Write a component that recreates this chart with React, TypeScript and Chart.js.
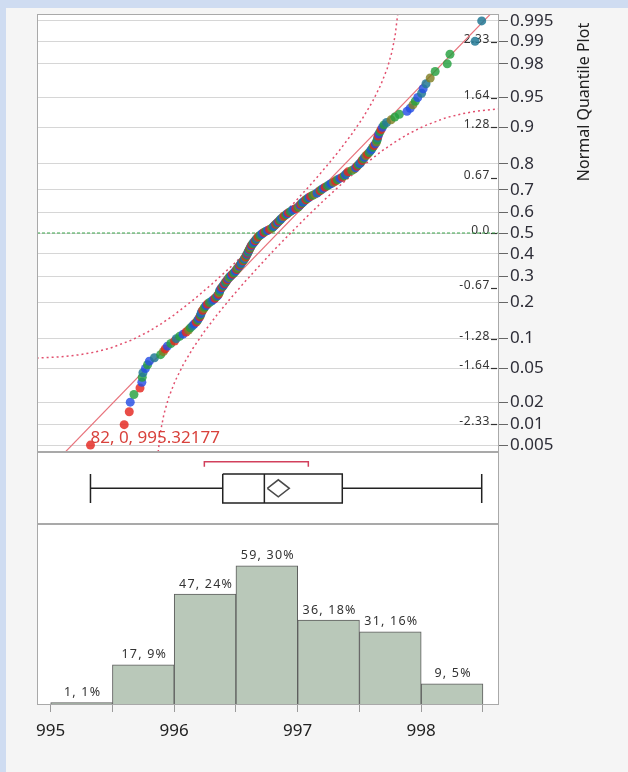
import React, { useEffect, useRef } from 'react';
import { Chart, registerables } from 'chart.js';

Chart.register(...registerables);

// ---------------- data ----------------
const X_MIN = 994.889;
const X_MAX = 998.63;
const Z_MIN = -2.661;
const Z_MAX = 2.661;

const VALUES = [
  995.322, 995.595, 995.636, 995.644, 995.674, 995.723, 995.738, 995.741, 995.747, 995.767,
  995.784, 995.799, 995.840, 995.890, 995.912, 995.927, 995.945, 995.973, 996.003, 996.017,
  996.044, 996.072, 996.097, 996.116, 996.131, 996.148, 996.162, 996.179, 996.190, 996.198,
  996.208, 996.213, 996.218, 996.223, 996.231, 996.240, 996.247, 996.259, 996.270, 996.286,
  996.303, 996.319, 996.330, 996.342, 996.353, 996.360, 996.364, 996.367, 996.371, 996.378,
  996.385, 996.394, 996.401, 996.408, 996.415, 996.422, 996.428, 996.436, 996.443, 996.453,
  996.462, 996.472, 996.482, 996.491, 996.498, 996.505, 996.512, 996.519, 996.526, 996.532,
  996.539, 996.545, 996.551, 996.558, 996.565, 996.571, 996.577, 996.581, 996.585, 996.590,
  996.594, 996.598, 996.602, 996.606, 996.610, 996.614, 996.619, 996.623, 996.628, 996.636,
  996.642, 996.649, 996.656, 996.662, 996.668, 996.675, 996.682, 996.693, 996.704, 996.715,
  996.726, 996.740, 996.756, 996.772, 996.788, 996.798, 996.806, 996.814, 996.822, 996.831,
  996.839, 996.848, 996.857, 996.865, 996.874, 996.882, 996.892, 996.904, 996.916, 996.926,
  996.940, 996.953, 996.968, 996.985, 997.003, 997.010, 997.018, 997.026, 997.035, 997.044,
  997.055, 997.066, 997.078, 997.091, 997.104, 997.122, 997.140, 997.157, 997.168, 997.181,
  997.194, 997.207, 997.222, 997.240, 997.256, 997.273, 997.290, 997.306, 997.322, 997.341,
  997.361, 997.376, 997.387, 997.398, 997.408, 997.438, 997.457, 997.469, 997.480, 997.491,
  997.503, 997.513, 997.522, 997.531, 997.541, 997.552, 997.565, 997.578, 997.589, 997.599,
  997.608, 997.618, 997.628, 997.638, 997.643, 997.647, 997.651, 997.657, 997.666, 997.675,
  997.686, 997.698, 997.720, 997.756, 997.786, 997.823, 997.885, 997.911, 997.933, 997.952,
  997.972, 998.003, 998.016, 998.039, 998.073, 998.113, 998.211, 998.233, 998.436, 998.490,
];

// normal scores of the ranks (quantile axis positions)
const NORMAL_SCORES = [
  -2.577, -2.329, -2.172, -2.055, -1.962, -1.883, -1.814, -1.753, -1.698, -1.647,
  -1.601, -1.557, -1.516, -1.478, -1.442, -1.408, -1.375, -1.343, -1.313, -1.284,
  -1.256, -1.229, -1.203, -1.178, -1.153, -1.129, -1.106, -1.083, -1.061, -1.040,
  -1.018, -0.998, -0.977, -0.957, -0.938, -0.919, -0.900, -0.881, -0.863, -0.845,
  -0.827, -0.810, -0.793, -0.776, -0.759, -0.743, -0.726, -0.710, -0.694, -0.678,
  -0.663, -0.647, -0.632, -0.617, -0.601, -0.587, -0.572, -0.557, -0.543, -0.528,
  -0.514, -0.500, -0.486, -0.472, -0.458, -0.445, -0.431, -0.417, -0.404, -0.391,
  -0.377, -0.364, -0.351, -0.338, -0.325, -0.312, -0.298, -0.285, -0.272, -0.259,
  -0.247, -0.234, -0.221, -0.208, -0.196, -0.183, -0.170, -0.158, -0.145, -0.131,
  -0.119, -0.106, -0.094, -0.081, -0.069, -0.056, -0.044, -0.031, -0.019, -0.006,
  0.006, 0.019, 0.031, 0.044, 0.056, 0.069, 0.081, 0.094, 0.106, 0.119,
  0.131, 0.145, 0.158, 0.170, 0.183, 0.196, 0.208, 0.221, 0.234, 0.247,
  0.259, 0.272, 0.285, 0.298, 0.312, 0.325, 0.338, 0.351, 0.364, 0.377,
  0.391, 0.404, 0.417, 0.431, 0.445, 0.458, 0.472, 0.486, 0.500, 0.514,
  0.528, 0.543, 0.557, 0.572, 0.587, 0.601, 0.617, 0.632, 0.647, 0.663,
  0.678, 0.694, 0.710, 0.726, 0.743, 0.759, 0.776, 0.793, 0.810, 0.827,
  0.845, 0.863, 0.881, 0.900, 0.919, 0.938, 0.957, 0.977, 0.998, 1.018,
  1.040, 1.061, 1.083, 1.106, 1.129, 1.153, 1.178, 1.203, 1.229, 1.256,
  1.284, 1.313, 1.343, 1.375, 1.408, 1.442, 1.478, 1.516, 1.557, 1.601,
  1.647, 1.698, 1.753, 1.814, 1.883, 1.962, 2.055, 2.172, 2.329, 2.577,
];

const POINT_COLOR_CODES = [
  'rrrbgrbgtb', 'gbtgorbgrt', 'gbrogtbrgb', 'rgbtrogbrg', 'tbrgbrogtb',
  'rgbrtgrbog', 'brgtbrgobr', 'gbtrgborgb', 'rtgbrgobrg', 'tbrgborgtb',
  'rgbrogbtrg', 'brgtborgbr', 'gtbrgobrgb', 'trgbrgobtr', 'gbrgtborgb',
  'rgbtrgobrg', 'btrgborgtb', 'grbogtrbgr', 'bgtoggbbog', 'btbtogggtt',
].join('');

const FIT_LINE_X = [994.889, 998.63];
const FIT_LINE_Z = [-3.015, 2.767];

const UPPER_BAND_X = [994.886, 995.024, 995.113, 995.231, 995.347, 995.480, 995.657, 995.789, 995.898, 995.995,
  996.166, 996.321, 996.466, 996.604, 996.737, 996.867, 996.991, 997.112, 997.227, 997.336,
  997.437, 997.528, 997.607, 997.673, 997.725, 997.763, 997.789, 997.810];
const UPPER_BAND_Z = [-1.52, -1.51, -1.50, -1.48, -1.45, -1.40, -1.30, -1.20, -1.10, -1.00,
  -0.80, -0.60, -0.40, -0.20, 0.00, 0.20, 0.40, 0.60, 0.80, 1.00,
  1.20, 1.40, 1.60, 1.80, 2.00, 2.20, 2.40, 2.661];

const LOWER_BAND_X = [995.870, 995.891, 995.917, 995.955, 996.007, 996.073, 996.152, 996.243, 996.344, 996.453,
  996.568, 996.689, 996.813, 996.943, 997.076, 997.214, 997.359, 997.514, 997.685, 997.782,
  997.891, 998.023, 998.200, 998.333, 998.449, 998.567, 998.656, 998.794];
const LOWER_BAND_Z = [-2.661, -2.40, -2.20, -2.00, -1.80, -1.60, -1.40, -1.20, -1.00, -0.80,
  -0.60, -0.40, -0.20, 0.00, 0.20, 0.40, 0.60, 0.80, 1.00, 1.10,
  1.20, 1.30, 1.40, 1.45, 1.48, 1.50, 1.51, 1.52];

const PROB_LABELS = ['0.005', '0.01', '0.02', '0.05', '0.1', '0.2', '0.3', '0.4', '0.5',
  '0.6', '0.7', '0.8', '0.9', '0.95', '0.98', '0.99', '0.995'];
const PROB_Z = [-2.576, -2.326, -2.054, -1.645, -1.282, -0.842, -0.524, -0.253, 0,
  0.253, 0.524, 0.842, 1.282, 1.645, 2.054, 2.326, 2.576];

const Z_TICK_LABELS = ['2.33', '1.64', '1.28', '0.67', '0.0', '-0.67', '-1.28', '-1.64', '-2.33'];
const Z_TICK_VALUES = [2.326, 1.645, 1.282, 0.674, 0, -0.674, -1.282, -1.645, -2.326];

const OUTLIER_LABEL = '82, 0, 995.32177';
const AXIS_TITLE = 'Normal Quantile Plot';

const BOX_MIN = 995.322;
const BOX_Q1 = 996.393;
const BOX_MEDIAN = 996.73;
const BOX_Q3 = 997.361;
const BOX_MAX = 998.49;
const MEAN = 996.843;
const MEAN_CI_LOW = 996.754;
const MEAN_CI_HIGH = 996.932;
const SHORTEST_HALF_LOW = 996.244;
const SHORTEST_HALF_HIGH = 997.086;

const HIST_BIN_LEFT = [995, 995.5, 996, 996.5, 997, 997.5, 998];
const HIST_BIN_WIDTH = 0.5;
const HIST_COUNTS = [1, 17, 47, 59, 36, 31, 9];
const HIST_LABELS = ['1, 1%', '17, 9%', '47, 24%', '59, 30%', '36, 18%', '31, 16%', '9, 5%'];
const X_TICKS = [995, 995.5, 996, 996.5, 997, 997.5, 998, 998.5];
const X_TICK_LABELS = ['995', '', '996', '', '997', '', '998', ''];

// ---------------- styles ----------------
const FONT = '"Noto Sans", "Open Sans", sans-serif';
const COLOR_MAP: Record<string, string> = {
  r: 'rgba(228, 38, 30, 0.82)',
  g: 'rgba(36, 160, 62, 0.82)',
  b: 'rgba(38, 78, 228, 0.82)',
  t: 'rgba(36, 122, 150, 0.86)',
  o: 'rgba(128, 128, 36, 0.82)',
};

const framePlugin = {
  id: 'panelFrame',
  beforeDraw(chart: any) {
    const { ctx, chartArea: a } = chart;
    ctx.save();
    ctx.fillStyle = '#ffffff';
    ctx.fillRect(a.left, a.top, a.right - a.left, a.bottom - a.top);
    ctx.restore();
  },
  afterDraw(chart: any) {
    const { ctx, chartArea: a } = chart;
    ctx.save();
    ctx.strokeStyle = '#a9a9a9';
    ctx.lineWidth = 1;
    ctx.strokeRect(a.left + 0.5, a.top + 0.5, a.right - a.left - 1, a.bottom - a.top - 1);
    ctx.restore();
  },
};

const quantileTextPlugin = {
  id: 'quantileText',
  beforeDatasetsDraw(chart: any) {
    const { ctx, chartArea: a } = chart;
    const ys = chart.scales.y;
    ctx.save();
    ctx.font = `12px ${FONT}`;
    ctx.fillStyle = '#333333';
    ctx.textAlign = 'right';
    ctx.textBaseline = 'alphabetic';
    try { (ctx as any).letterSpacing = '0.6px'; } catch (e) { /* ignore */ }
    Z_TICK_VALUES.forEach((z, i) => {
      const y = ys.getPixelForValue(z);
      ctx.fillText(Z_TICK_LABELS[i], a.right - 9, y + 1);
      ctx.strokeStyle = '#333333';
      ctx.lineWidth = 1.2;
      ctx.beginPath();
      ctx.moveTo(a.right - 8, Math.round(y) + 0.5);
      ctx.lineTo(a.right - 2, Math.round(y) + 0.5);
      ctx.stroke();
    });
    ctx.restore();
  },
  afterDatasetsDraw(chart: any) {
    const { ctx } = chart;
    const pt = chart.getDatasetMeta(0).data[0];
    ctx.save();
    ctx.font = `17px ${FONT}`;
    ctx.fillStyle = '#d8423c';
    ctx.textAlign = 'left';
    ctx.textBaseline = 'alphabetic';
    ctx.fillText(OUTLIER_LABEL, pt.x, pt.y - 2);
    ctx.restore();
  },
  afterDraw(chart: any) {
    const { ctx } = chart;
    ctx.save();
    ctx.translate(584, 102);
    ctx.rotate(-Math.PI / 2);
    ctx.font = `16px ${FONT}`;
    ctx.fillStyle = '#222222';
    ctx.textAlign = 'center';
    ctx.textBaseline = 'middle';
    ctx.fillText(AXIS_TITLE, 0, 0);
    ctx.restore();
  },
};

const histLabelPlugin = {
  id: 'histLabels',
  afterDatasetsDraw(chart: any) {
    const { ctx } = chart;
    const meta = chart.getDatasetMeta(0);
    ctx.save();
    ctx.font = `12.5px ${FONT}`;
    ctx.fillStyle = '#333333';
    ctx.textAlign = 'center';
    ctx.textBaseline = 'middle';
    try { (ctx as any).letterSpacing = '1.2px'; } catch (e) { /* ignore */ }
    meta.data.forEach((bar: any, i: number) => {
      ctx.fillText(HIST_LABELS[i], bar.x + 1, bar.y - 10);
    });
    ctx.restore();
  },
};

function seg(points: { x: number; y: number }[], color: string, width: number, extra: any = {}) {
  return {
    data: points,
    showLine: true,
    borderColor: color,
    borderWidth: width,
    pointRadius: 0,
    pointHoverRadius: 0,
    tension: 0,
    fill: false,
    ...extra,
  };
}

const commonOptions = {
  responsive: false,
  maintainAspectRatio: false,
  animation: false as const,
  devicePixelRatio: 1,
  events: [] as any[],
  plugins: { legend: { display: false }, tooltip: { enabled: false } },
};

export default function App() {
  const ref1 = useRef<HTMLCanvasElement | null>(null);
  const ref2 = useRef<HTMLCanvasElement | null>(null);
  const ref3 = useRef<HTMLCanvasElement | null>(null);

  useEffect(() => {
    Chart.defaults.font.family = FONT;
    const charts: Chart[] = [];

    // ---- Normal quantile plot ----
    const points = VALUES.map((v, i) => ({ x: v, y: NORMAL_SCORES[i] }));
    const colors = VALUES.map((_, i) => COLOR_MAP[POINT_COLOR_CODES[i]] || COLOR_MAP.r);
    const c1 = new Chart(ref1.current as HTMLCanvasElement, {
      type: 'scatter',
      data: {
        datasets: [
          {
            data: points,
            pointRadius: 4.5,
            pointHoverRadius: 4.5,
            pointBorderWidth: 0,
            pointBackgroundColor: colors,
            pointBorderColor: colors,
            order: 0,
          } as any,
          seg(FIT_LINE_X.map((x, i) => ({ x, y: FIT_LINE_Z[i] })), '#e8737c', 1.2, { order: 2 }),
          seg(UPPER_BAND_X.map((x, i) => ({ x, y: UPPER_BAND_Z[i] })), '#e2506e', 1.5, { borderDash: [2, 3], order: 3 }),
          seg(LOWER_BAND_X.map((x, i) => ({ x, y: LOWER_BAND_Z[i] })), '#e2506e', 1.5, { borderDash: [2, 3], order: 3 }),
          seg([{ x: X_MIN, y: 0 }, { x: X_MAX, y: 0 }], '#3aa64a', 1, { borderDash: [3, 2], order: 4 }),
        ],
      },
      options: {
        ...commonOptions,
        layout: { padding: { left: 37, top: 14, right: 0, bottom: 20 } },
        scales: {
          x: { type: 'linear', min: X_MIN, max: X_MAX, display: false },
          y: {
            type: 'linear',
            position: 'right',
            min: Z_MIN,
            max: Z_MAX,
            afterBuildTicks: (s: any) => { s.ticks = PROB_Z.map((v) => ({ value: v })); },
            afterFit: (s: any) => { s.width = 129; },
            ticks: {
              autoSkip: false,
              padding: 2,
              color: '#2e2e38',
              font: { size: 17, family: FONT },
              callback: (_v: any, i: number) => PROB_LABELS[i],
            },
            grid: { color: '#d6d6d6', lineWidth: 1, tickLength: 9, tickColor: '#666666', drawTicks: true },
            border: { display: false },
          },
        },
      } as any,
      plugins: [framePlugin, quantileTextPlugin],
    });
    charts.push(c1);

    // ---- Box plot ----
    const MID = 36.3, TOP = 22, BOT = 51;
    const c2 = new Chart(ref2.current as HTMLCanvasElement, {
      type: 'scatter',
      data: {
        datasets: [
          seg([{ x: SHORTEST_HALF_LOW, y: 14.7 }, { x: SHORTEST_HALF_LOW, y: 9.7 }, { x: SHORTEST_HALF_HIGH, y: 9.7 }, { x: SHORTEST_HALF_HIGH, y: 14.7 }], '#d2405c', 1.5),
          seg([{ x: BOX_MIN, y: MID }, { x: BOX_Q1, y: MID }], '#222222', 1.5),
          seg([{ x: BOX_Q3, y: MID }, { x: BOX_MAX, y: MID }], '#222222', 1.5),
          seg([{ x: BOX_MIN, y: TOP }, { x: BOX_MIN, y: BOT }], '#222222', 1.5),
          seg([{ x: BOX_MAX, y: TOP }, { x: BOX_MAX, y: BOT }], '#222222', 1.5),
          seg([{ x: BOX_Q1, y: TOP }, { x: BOX_Q3, y: TOP }, { x: BOX_Q3, y: BOT }, { x: BOX_Q1, y: BOT }, { x: BOX_Q1, y: TOP }], '#222222', 1.5),
          seg([{ x: BOX_MEDIAN, y: TOP }, { x: BOX_MEDIAN, y: BOT }], '#222222', 1.5),
          seg([{ x: MEAN_CI_LOW, y: MID }, { x: MEAN, y: MID - 8.5 }, { x: MEAN_CI_HIGH, y: MID }, { x: MEAN, y: MID + 8.5 }, { x: MEAN_CI_LOW, y: MID }], '#4a4a4a', 1.5),
        ],
      },
      options: {
        ...commonOptions,
        layout: { padding: { left: 37, top: 0, right: 129, bottom: 0 } },
        scales: {
          x: { type: 'linear', min: X_MIN, max: X_MAX, display: false },
          y: { type: 'linear', min: 0, max: 72, reverse: true, display: false },
        },
      } as any,
      plugins: [framePlugin],
    });
    charts.push(c2);

    // ---- Histogram ----
    const c3 = new Chart(ref3.current as HTMLCanvasElement, {
      type: 'bar',
      data: {
        datasets: [
          {
            data: HIST_BIN_LEFT.map((l, i) => ({ x: l + HIST_BIN_WIDTH / 2, y: HIST_COUNTS[i] })),
            backgroundColor: '#b9c8b9',
            borderColor: '#5c5c5c',
            borderWidth: 1,
            borderSkipped: 'start',
            barPercentage: 1,
            categoryPercentage: 1,
          } as any,
        ],
      },
      options: {
        ...commonOptions,
        layout: { padding: { left: 37, top: 0, right: 129, bottom: 0 } },
        scales: {
          x: {
            type: 'linear',
            min: X_MIN,
            max: X_MAX,
            offset: false,
            afterBuildTicks: (s: any) => { s.ticks = X_TICKS.map((v) => ({ value: v })); },
            afterFit: (s: any) => { s.height = 67; },
            ticks: {
              autoSkip: false,
              maxRotation: 0,
              minRotation: 0,
              padding: 9,
              color: '#222222',
              font: { size: 17, family: FONT },
              callback: (_v: any, i: number) => X_TICK_LABELS[i],
            },
            grid: { drawOnChartArea: false, offset: false, tickLength: 7, tickColor: '#9a9a9a' },
            border: { display: false },
          },
          y: { type: 'linear', min: 0, max: 76.7, display: false },
        },
      } as any,
      plugins: [framePlugin, histLabelPlugin],
    });
    charts.push(c3);

    return () => { charts.forEach((c) => c.destroy()); };
  }, []);

  const abs = (top: number, h: number): React.CSSProperties => ({
    position: 'absolute', left: 0, top, width: 628, height: h,
  });

  return (
    <div style={{ position: 'absolute', left: 0, top: 0, width: 628, height: 772, background: '#cfdcf1', overflow: 'hidden' }}>
      <div style={{ position: 'absolute', left: 6, top: 8, width: 622, height: 764, background: '#f5f5f5' }} />
      <canvas ref={ref1} width={628} height={472} style={abs(0, 472)} />
      <canvas ref={ref2} width={628} height={72} style={abs(452, 72)} />
      <canvas ref={ref3} width={628} height={248} style={abs(524, 248)} />
    </div>
  );
}
